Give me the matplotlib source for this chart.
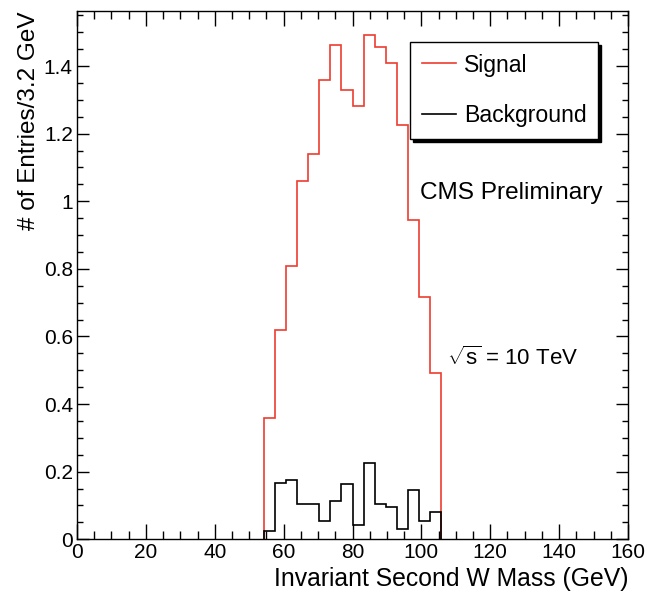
import numpy as np
import matplotlib
matplotlib.use('Agg')
import matplotlib.pyplot as plt
from matplotlib.ticker import MultipleLocator, FuncFormatter

plt.rcParams['font.family'] = ['Liberation Sans', 'DejaVu Sans']
plt.rcParams['mathtext.fontset'] = 'custom'
plt.rcParams['mathtext.rm'] = 'Liberation Sans'

# bin edges, 3.2 GeV wide, from 54.4 to 105.6 GeV
bin_width = 3.2
edges = 54.4 + bin_width * np.arange(17)
signal = [0.359, 0.620, 0.809, 1.061, 1.140, 1.359, 1.463, 1.328,
          1.283, 1.491, 1.456, 1.409, 1.226, 0.945, 0.717, 0.493]
background = [0.025, 0.166, 0.176, 0.104, 0.104, 0.053, 0.112, 0.163,
              0.041, 0.227, 0.104, 0.097, 0.031, 0.146, 0.053, 0.082]

fig = plt.figure(figsize=(6.47, 5.93), dpi=100)
ax = fig.add_axes([77/647, 1 - 539.3/593, 551/647, 528.3/593])

ax.stairs(signal, edges, color='#ee3b30', lw=1.2, label='Signal')
ax.stairs(background, edges, color='black', lw=1.2, label='Background')

ax.set_xlim(0, 160)
ax.set_ylim(0, 1.563)

ax.xaxis.set_major_locator(MultipleLocator(20))
ax.xaxis.set_minor_locator(MultipleLocator(5))
ax.yaxis.set_major_locator(MultipleLocator(0.2))
ax.yaxis.set_minor_locator(MultipleLocator(0.05))
ax.yaxis.set_major_formatter(FuncFormatter(lambda v, p: '%g' % round(v, 2)))

ax.tick_params(axis='both', which='both', direction='in', top=True, right=True,
               labelsize=15, width=1.0)
ax.tick_params(axis='x', which='major', length=11, pad=3)
ax.tick_params(axis='x', which='minor', length=6)
ax.tick_params(axis='y', which='major', length=8.5, pad=3)
ax.tick_params(axis='y', which='minor', length=4.5)
for s in ax.spines.values():
    s.set_linewidth(1.0)

ax.set_xlabel('Invariant Second W Mass (GeV)', fontsize=17.8, loc='right', labelpad=3.5)
ax.set_ylabel('# of Entries/3.2 GeV', fontsize=17.5, loc='top', labelpad=3)

leg = ax.legend(loc='upper left', bbox_to_anchor=(410/647, 1 - 42/593),
                bbox_transform=fig.transFigure, fontsize=16.6, frameon=True,
                fancybox=False, shadow={'color': 'black', 'alpha': 1},
                handlelength=1.5, handletextpad=0.35, labelspacing=1.2,
                borderpad=0.5, borderaxespad=0)
leg.get_frame().set_edgecolor('black')
leg.get_frame().set_linewidth(1.0)

ax.text(99.6, 1.025, 'CMS Preliminary', fontsize=17.6, va='center', ha='left')
ax.text(107.4, 0.536, r'$\sqrt{\mathrm{s}}$ = 10 TeV', fontsize=16, va='center', ha='left')

plt.savefig('out.png', dpi=100)
